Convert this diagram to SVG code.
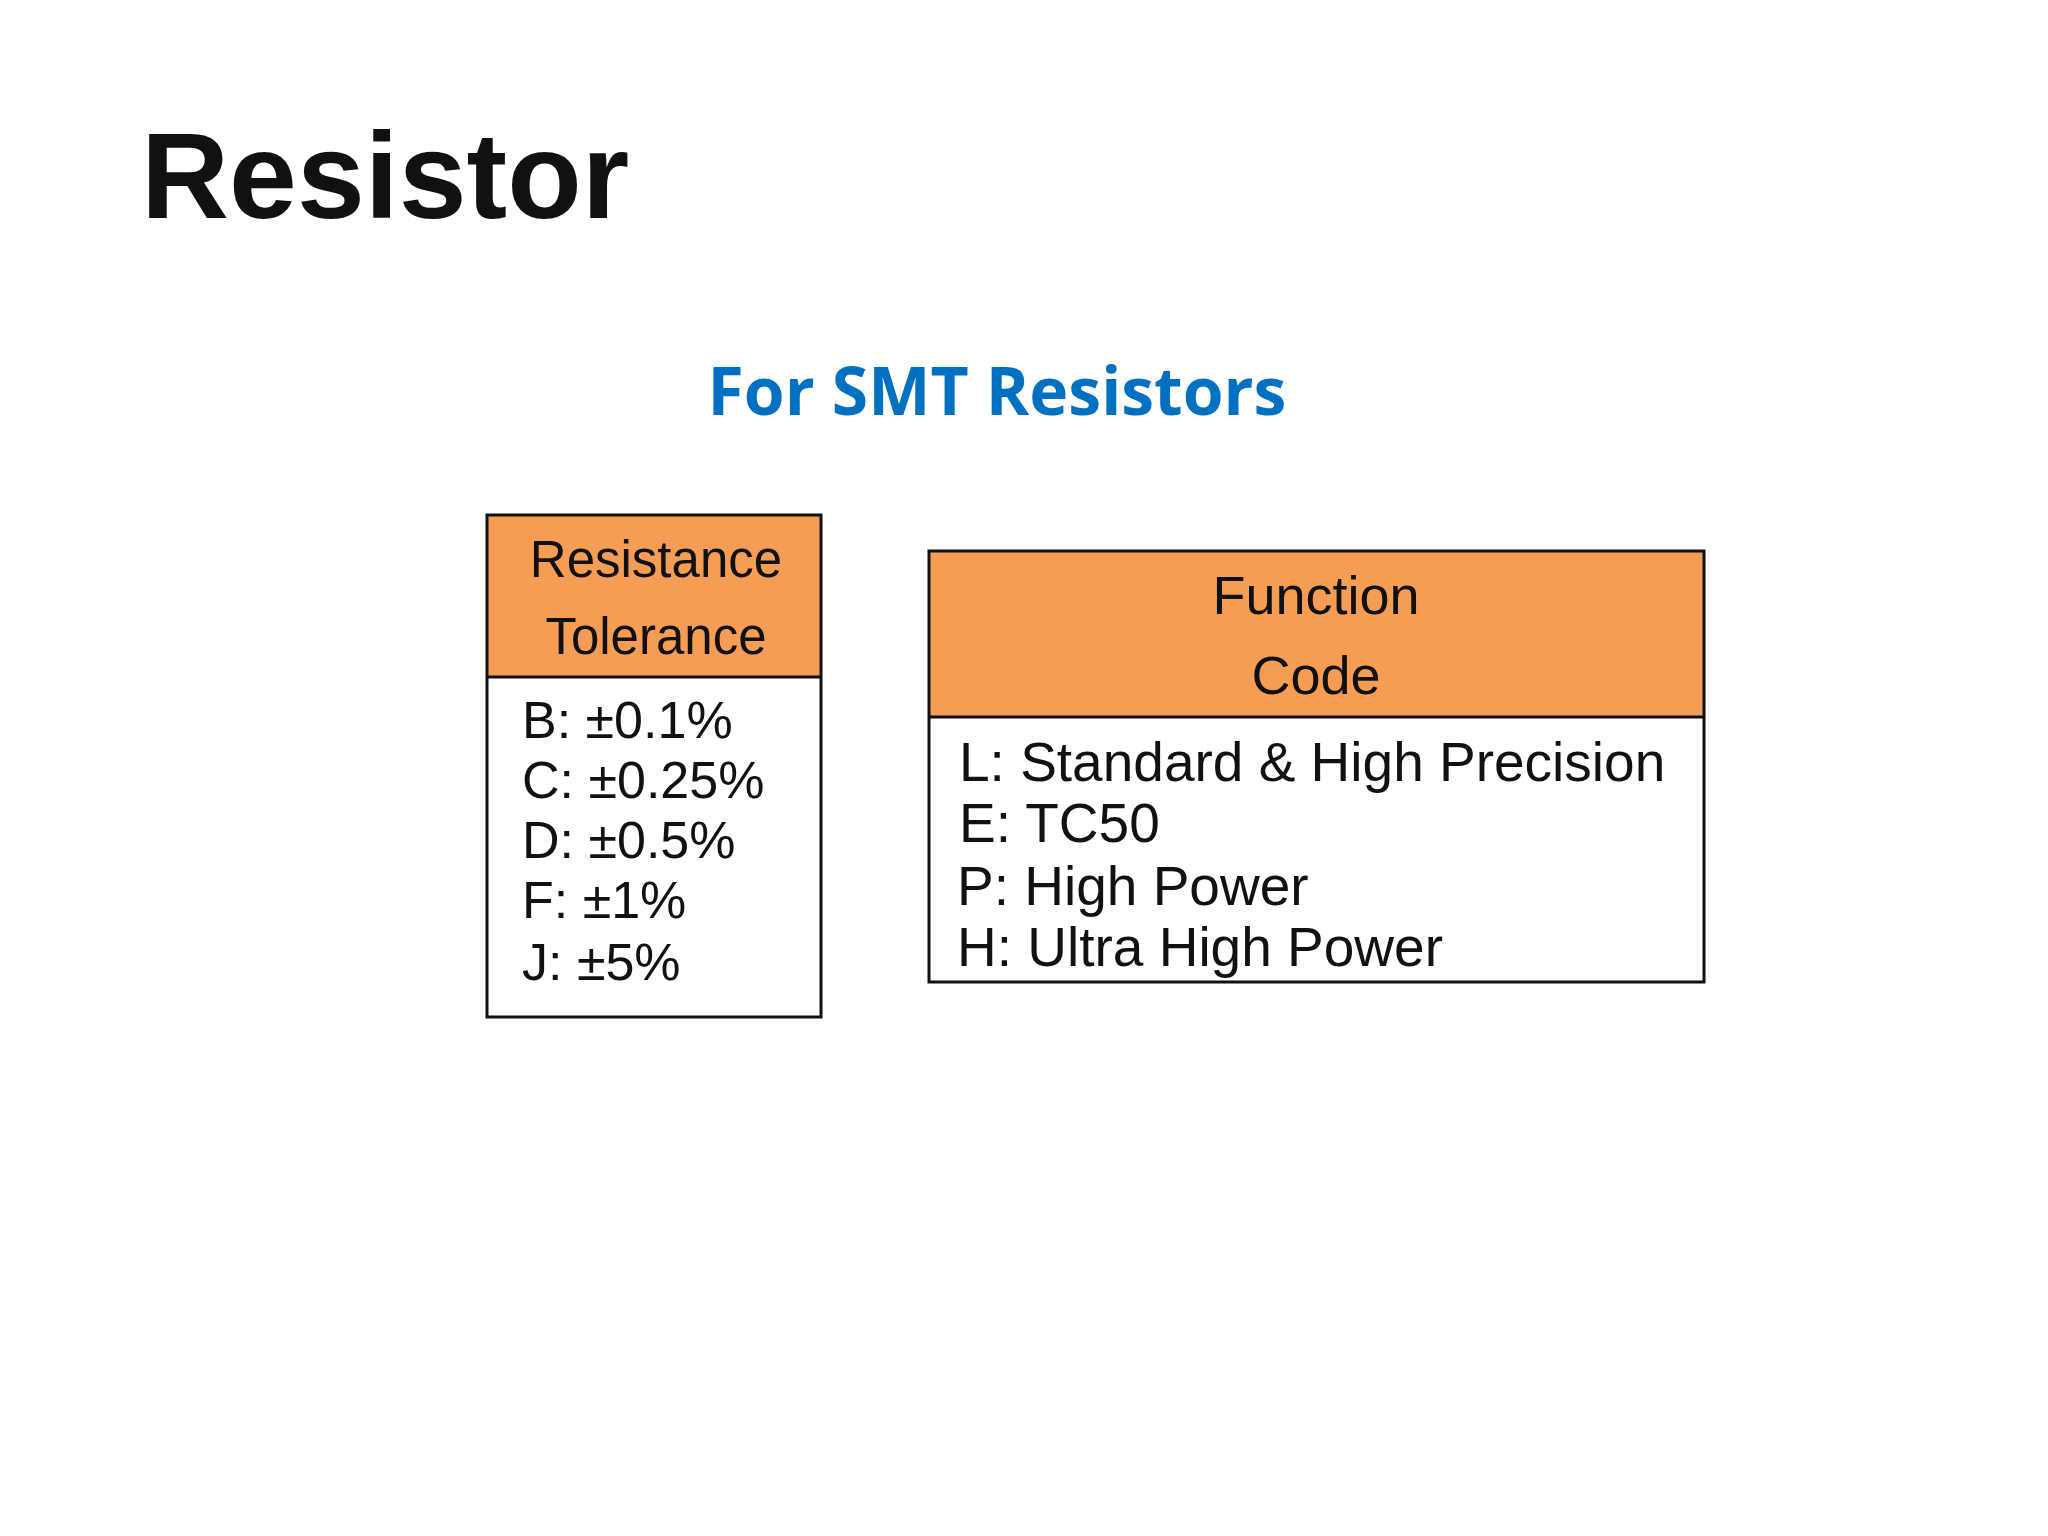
<svg xmlns="http://www.w3.org/2000/svg" width="2048" height="1536" viewBox="0 0 2048 1536">
<style>
.t{font-family:"Liberation Sans",Arial,sans-serif;fill:#111}
.h{fill:#F59D55;stroke:none}
.b{fill:none;stroke:#111;stroke-width:3}
</style>
<rect width="2048" height="1536" fill="#fff"/>
<text x="141" y="218" class="t" font-size="122" font-weight="bold" fill="#000">Resistor</text>
<text x="997" y="415" font-family="'Open Sans',sans-serif" font-weight="bold" font-size="66" fill="#0070C0" text-anchor="middle">For SMT Resistors</text>
<g id="tolerance">
<rect x="487" y="515" width="334" height="162" class="h"/>
<rect x="487" y="515" width="334" height="502" class="b"/>
<line x1="487" y1="677" x2="821" y2="677" class="b"/>
<text x="656" y="577" class="t" font-size="51" text-anchor="middle">Resistance</text>
<text x="656" y="654" class="t" font-size="51" text-anchor="middle">Tolerance</text>
<g class="t" font-size="52">
<text x="522" y="738">B: ±0.1%</text>
<text x="522" y="798">C: ±0.25%</text>
<text x="522" y="858">D: ±0.5%</text>
<text x="522" y="918">F: ±1%</text>
<text x="522" y="980">J: ±5%</text>
</g>
</g>
<g id="function">
<rect x="929" y="551" width="775" height="166" class="h"/>
<rect x="929" y="551" width="775" height="431" class="b"/>
<line x1="929" y1="717" x2="1704" y2="717" class="b"/>
<text x="1316" y="614" class="t" font-size="54" text-anchor="middle">Function</text>
<text x="1316" y="694" class="t" font-size="54" text-anchor="middle">Code</text>
<g class="t" font-size="55">
<text x="959" y="781">L: Standard &amp; High Precision</text>
<text x="959" y="842">E: TC50</text>
<text x="957" y="905">P: High Power</text>
<text x="957" y="966">H: Ultra High Power</text>
</g>
</g>
<g id="connectors"/>
</svg>
